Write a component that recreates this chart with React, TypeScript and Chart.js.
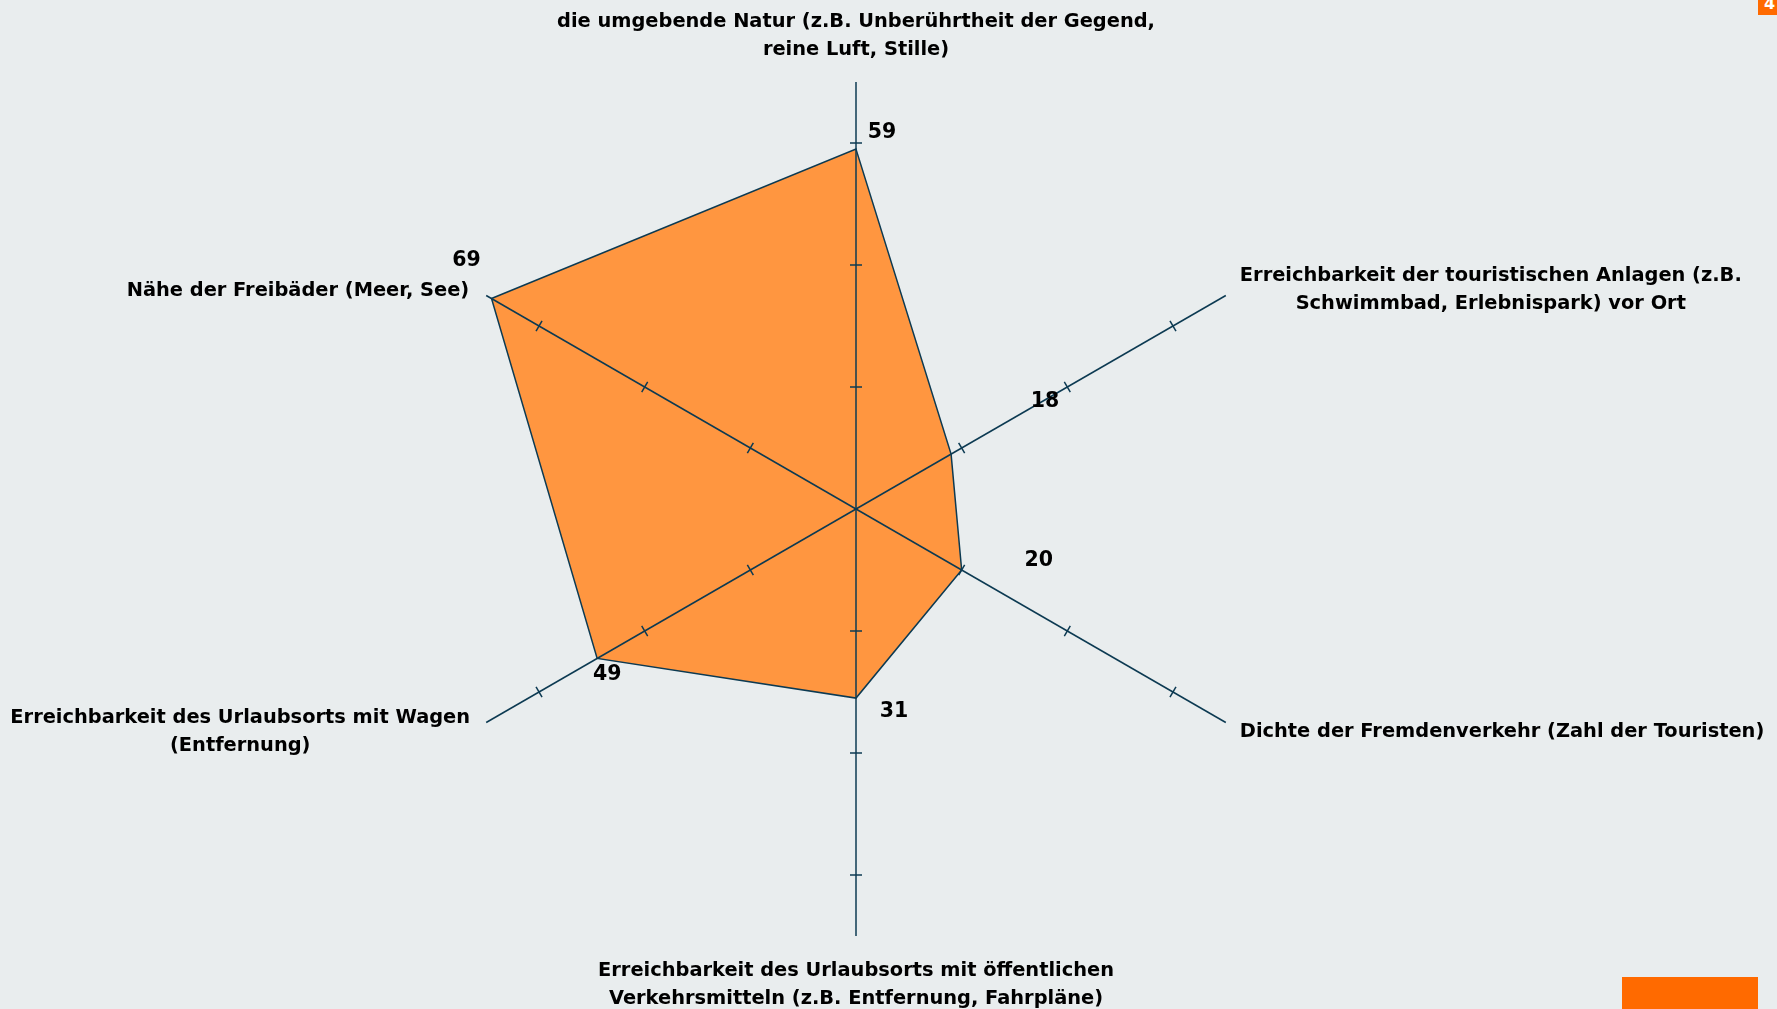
import React, { useEffect, useRef } from "react";
import { Chart, registerables } from "chart.js";

Chart.register(...registerables);

const categories: string[][] = [
  ["die umgebende Natur (z.B. Unberührtheit der Gegend,", "reine Luft, Stille)"],
  ["Erreichbarkeit der touristischen Anlagen (z.B.", "Schwimmbad, Erlebnispark) vor Ort"],
  ["Dichte der Fremdenverkehr (Zahl der Touristen)"],
  ["Erreichbarkeit des Urlaubsorts mit öffentlichen", "Verkehrsmitteln (z.B. Entfernung, Fahrpläne)"],
  ["Erreichbarkeit des Urlaubsorts mit Wagen", "(Entfernung)"],
  ["Nähe der Freibäder (Meer, See)"],
];

const values: number[] = [59, 18, 20, 31, 49, 69];

const tickValues: number[] = [20, 40, 60];
const scaleMax = 70;

// label placement (style): alignment and offset from the axis end
const catLabelStyle = [
  { align: "center", dx: 0, dy: -60.5 },
  { align: "center", dx: 265, dy: -20 },
  { align: "left", dx: 14, dy: 9 },
  { align: "center", dx: 0, dy: 34.5 },
  { align: "center", dx: -246, dy: -5 },
  { align: "right", dx: -17, dy: -5 },
];
// value label offset from data point
const valueLabelOffset = [
  { dx: 26, dy: -16.5 },
  { dx: 94, dy: -52.5 },
  { dx: 77, dy: -9.5 },
  { dx: 38, dy: 13.5 },
  { dx: 10, dy: 16.5 },
  { dx: -25, dy: -37.5 },
];

const AXIS = "#0c3a52";
const FONT = "bold 19.4px 'DejaVu Sans', Verdana, sans-serif";
const NUM_FONT = "bold 20.5px 'DejaVu Sans', Verdana, sans-serif";

const overlayPlugin = {
  id: "overlay",
  afterDatasetsDraw(chart: any) {
    const scale = chart.scales.r;
    const ctx = chart.ctx as CanvasRenderingContext2D;
    ctx.save();
    ctx.strokeStyle = AXIS;
    ctx.lineWidth = 1.5;
    // axis lines
    for (let i = 0; i < categories.length; i++) {
      const end = scale.getPointPosition(i, scale.drawingArea);
      ctx.beginPath();
      ctx.moveTo(scale.xCenter, scale.yCenter);
      ctx.lineTo(end.x, end.y);
      ctx.stroke();
    }
    // tick marks
    for (let i = 0; i < categories.length; i++) {
      for (const tv of tickValues) {
        const p = scale.getPointPosition(i, scale.getDistanceFromCenterForValue(tv));
        const a = p.angle + Math.PI / 2;
        const h = 6;
        ctx.beginPath();
        ctx.moveTo(p.x - Math.cos(a) * h, p.y - Math.sin(a) * h);
        ctx.lineTo(p.x + Math.cos(a) * h, p.y + Math.sin(a) * h);
        ctx.stroke();
      }
    }
    // category labels
    ctx.fillStyle = "#000";
    ctx.font = FONT;
    ctx.textBaseline = "middle";
    const lh = 28;
    for (let i = 0; i < categories.length; i++) {
      const end = scale.getPointPosition(i, scale.drawingArea);
      const st = catLabelStyle[i];
      ctx.textAlign = st.align as CanvasTextAlign;
      categories[i].forEach((line, k) => {
        ctx.fillText(line, end.x + st.dx, end.y + st.dy + k * lh);
      });
    }
    // value labels
    ctx.font = NUM_FONT;
    ctx.textAlign = "center";
    for (let i = 0; i < values.length; i++) {
      const p = scale.getPointPosition(i, scale.getDistanceFromCenterForValue(values[i]));
      const o = valueLabelOffset[i];
      ctx.fillText(String(values[i]), p.x + o.dx, p.y + o.dy);
    }
    ctx.restore();
  },
};

export default function App() {
  const ref = useRef<HTMLCanvasElement>(null);
  useEffect(() => {
    if (!ref.current) return;
    const chart = new Chart(ref.current, {
      type: "radar",
      data: {
        labels: categories,
        datasets: [
          {
            data: values,
            backgroundColor: "#ff9640",
            borderColor: AXIS,
            borderWidth: 1.5,
            pointRadius: 0,
            fill: true,
          },
        ],
      },
      options: {
        responsive: false,
        animation: false,
        layout: { padding: { left: 429, right: 494, top: 82, bottom: 73 } },
        plugins: { legend: { display: false }, tooltip: { enabled: false } },
        scales: {
          r: {
            min: 0,
            max: scaleMax,
            grid: { display: false },
            angleLines: { display: false },
            pointLabels: { display: false },
            ticks: { display: false, stepSize: 20 },
          },
        },
      },
      plugins: [overlayPlugin],
    });
    return () => chart.destroy();
  }, []);
  return (
    <div style={{ position: "fixed", left: 0, top: 0, width: 1777, height: 1009, background: "#e9edee", overflow: "hidden" }}>
      <canvas ref={ref} width={1777} height={1009} style={{ position: "absolute", left: 0, top: 0, width: 1777, height: 1009 }} />
      <div style={{ position: "absolute", left: 1622, top: 977, width: 136, height: 40, background: "#ff6a00" }} />
      <div style={{ position: "absolute", left: 1758, top: 0, width: 19, height: 15, background: "#ff6a00", overflow: "hidden", color: "#fff", font: "bold 16px 'DejaVu Sans'", lineHeight: "8px", paddingLeft: 6, boxSizing: "border-box" }}>4</div>
    </div>
  );
}
